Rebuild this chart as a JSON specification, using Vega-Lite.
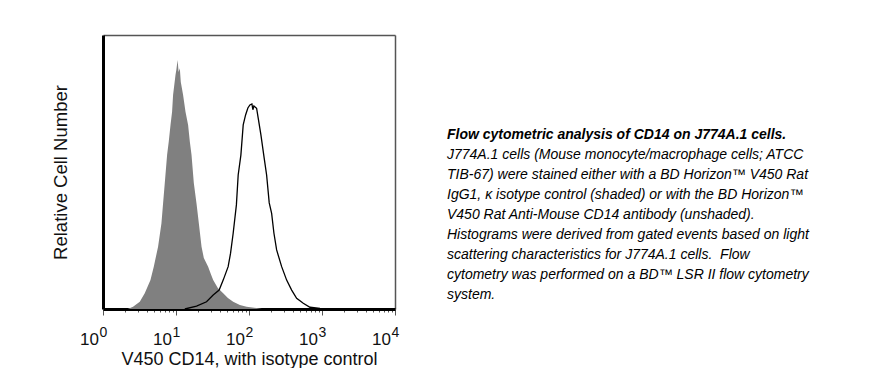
{
  "$schema": "https://vega.github.io/schema/vega-lite/v6.json",
  "background": "white",
  "padding": {"left": 51, "top": 35, "right": 5, "bottom": 0},
  "config": {"view": {"stroke": null}, "font": "Liberation Sans"},
  "datasets": {
    "isotype": [
      {"intensity": 2.18, "count": 0}, {"intensity": 2.58, "count": 0.9}, {"intensity": 3.19, "count": 2.9},
      {"intensity": 3.73, "count": 6.3}, {"intensity": 4.47, "count": 11.6}, {"intensity": 4.96, "count": 17.0},
      {"intensity": 5.68, "count": 25.0}, {"intensity": 6.32, "count": 34.4}, {"intensity": 6.65, "count": 42.4},
      {"intensity": 7.02, "count": 50.6}, {"intensity": 7.55, "count": 61.8}, {"intensity": 7.96, "count": 67.2},
      {"intensity": 8.41, "count": 73.9}, {"intensity": 8.84, "count": 79.2}, {"intensity": 9.12, "count": 85.9},
      {"intensity": 9.84, "count": 93.9}, {"intensity": 10.1, "count": 95.9}, {"intensity": 10.52, "count": 100},
      {"intensity": 10.86, "count": 95.1}, {"intensity": 11.28, "count": 96.7}, {"intensity": 11.63, "count": 91.1},
      {"intensity": 12.51, "count": 85.9}, {"intensity": 13.49, "count": 79.2}, {"intensity": 14.65, "count": 73.9},
      {"intensity": 15.46, "count": 67.2}, {"intensity": 16.32, "count": 61.8}, {"intensity": 17.54, "count": 50.6},
      {"intensity": 19.1, "count": 42.4}, {"intensity": 20.55, "count": 34.4}, {"intensity": 22.38, "count": 25.0},
      {"intensity": 24.05, "count": 20.5}, {"intensity": 27.56, "count": 17.0}, {"intensity": 30.0, "count": 14.1},
      {"intensity": 32.3, "count": 11.6}, {"intensity": 37.4, "count": 8.4}, {"intensity": 44.3, "count": 6.3},
      {"intensity": 51.4, "count": 4.4}, {"intensity": 60.7, "count": 2.9}, {"intensity": 75.0, "count": 1.6},
      {"intensity": 92.7, "count": 0.9}, {"intensity": 127, "count": 0.4}, {"intensity": 150, "count": 0}
    ],
    "cd14": [
      {"intensity": 13.2, "count": 0}, {"intensity": 19.1, "count": 1.2}, {"intensity": 26.2, "count": 2.9},
      {"intensity": 32.3, "count": 5.6}, {"intensity": 39.0, "count": 7.6}, {"intensity": 44.3, "count": 11.6},
      {"intensity": 51.8, "count": 17.0}, {"intensity": 55.9, "count": 22.4}, {"intensity": 60.7, "count": 30.4},
      {"intensity": 67.2, "count": 41.8}, {"intensity": 71.1, "count": 53.8}, {"intensity": 77.4, "count": 61.8},
      {"intensity": 83.3, "count": 73.9}, {"intensity": 89.8, "count": 77.9}, {"intensity": 96.5, "count": 80.7},
      {"intensity": 102.9, "count": 81.9}, {"intensity": 109.6, "count": 82.3}, {"intensity": 113, "count": 80.0},
      {"intensity": 116.7, "count": 81.5}, {"intensity": 127.1, "count": 80.6}, {"intensity": 133.7, "count": 76.6},
      {"intensity": 145.6, "count": 69.9}, {"intensity": 161.6, "count": 60.5}, {"intensity": 174.3, "count": 53.8},
      {"intensity": 189.3, "count": 42.6}, {"intensity": 204.2, "count": 38.4}, {"intensity": 219.6, "count": 30.4},
      {"intensity": 239.1, "count": 23.7}, {"intensity": 280.1, "count": 17.0}, {"intensity": 327.8, "count": 11.6},
      {"intensity": 384, "count": 7.6}, {"intensity": 449.5, "count": 4.3}, {"intensity": 553.9, "count": 2.3},
      {"intensity": 684, "count": 0.7}, {"intensity": 939, "count": 0.2}, {"intensity": 1260, "count": 0}
    ],
    "caption": [
      {"line": 1, "indent": 0, "text": "Flow cytometric analysis of CD14 on J774A.1 cells."},
      {"line": 2, "indent": 0, "text": "J774A.1 cells (Mouse monocyte/macrophage cells; ATCC"},
      {"line": 3, "indent": 0, "text": "TIB-67) were stained either with a BD Horizon™ V450 Rat"},
      {"line": 4, "indent": 0, "text": "IgG1, κ isotype control (shaded) or with the BD Horizon™"},
      {"line": 5, "indent": 0, "text": "V450 Rat Anti-Mouse CD14 antibody (unshaded)."},
      {"line": 6, "indent": 0, "text": "Histograms were derived from gated events based on light"},
      {"line": 7, "indent": 0, "text": "scattering characteristics for J774A.1 cells.\u00a0 Flow"},
      {"line": 8, "indent": 0, "text": "cytometry was performed on a BD™ LSR II flow cytometry"},
      {"line": 9, "indent": 0, "text": "system."}
    ]
  },
  "spacing": 52,
  "bounds": "flush",
  "hconcat": [
    {
      "width": 292,
      "height": 274,
      "resolve": {"scale": {"x": "independent"}, "axis": {"x": "independent"}},
      "layer": [
        {
          "data": {"name": "isotype"},
          "mark": {"type": "area", "color": "#808080", "interpolate": "linear"},
          "encoding": {
            "x": {
              "field": "intensity", "type": "quantitative",
              "scale": {"type": "log", "domain": [1, 10000], "nice": false},
              "axis": {
                "orient": "bottom",
                "title": "V450 CD14, with isotype control",
                "values": [1,2,3,4,5,6,7,8,9,10,20,30,40,50,60,70,80,90,100,200,300,400,500,600,700,800,900,1000,2000,3000,4000,5000,6000,7000,8000,9000,10000],
                "labelExpr": "indexof([1,10,100,1000,10000], datum.value) >= 0 ? '10' : ''",
                "grid": false,
                "domainColor": "black",
                "domainWidth": 3,
                "tickColor": "#555",
                "tickWidth": 1,
                "tickSize": {"condition": {"test": "indexof([1,10,100,1000,10000], datum.value) >= 0", "value": 6}, "value": 3},
                "labelFontSize": 17,
                "labelColor": "#111",
                "labelBaseline": "alphabetic",
                "labelPadding": 29,
                "labelOffset": -14,
                "labelFlush": false,
                "labelOverlap": false,
                "labelBound": false,
                "titleFontSize": 18,
                "titleFontWeight": "normal",
                "titleColor": "#111",
                "titlePadding": 3
              }
            },
            "y": {
              "field": "count", "type": "quantitative",
              "scale": {"domain": [0, 110], "nice": false},
              "axis": {
                "title": "Relative Cell Number",
                "values": [110],
                "labels": false,
                "ticks": false,
                "grid": true,
                "gridColor": "#555",
                "gridWidth": 1.5,
                "domainColor": "black",
                "domainWidth": 3,
                "titleFontSize": 18.5,
                "titleFontWeight": "normal",
                "titleColor": "#111",
                "titlePadding": 33
              }
            }
          }
        },
        {
          "data": {"name": "cd14"},
          "mark": {"type": "line", "color": "black", "strokeWidth": 1.3, "interpolate": "linear"},
          "encoding": {
            "x": {
              "field": "intensity", "type": "quantitative",
              "scale": {"type": "log", "domain": [1, 10000], "nice": false},
              "axis": {
                "orient": "bottom",
                "title": null,
                "values": [1, 10, 100, 1000, 10000],
                "labelExpr": "datum.value == 1 ? '0' : datum.value == 10 ? '1' : datum.value == 100 ? '2' : datum.value == 1000 ? '3' : '4'",
                "domain": false,
                "ticks": false,
                "tickSize": 0,
                "grid": true,
                "gridColor": "#555",
                "gridWidth": 1.5,
                "gridOpacity": {"condition": {"test": "datum.value == 10000", "value": 1}, "value": 0},
                "labelFontSize": 14,
                "labelColor": "#111",
                "labelBaseline": "alphabetic",
                "labelPadding": 27,
                "labelOffset": 0,
                "labelFlush": false,
                "labelOverlap": false,
                "labelBound": false
              }
            },
            "y": {"field": "count", "type": "quantitative"}
          }
        }
      ]
    },
    {
      "width": 380,
      "height": 274,
      "data": {"name": "caption"},
      "encoding": {
        "x": {"field": "indent", "type": "quantitative", "scale": {"domain": [0, 1]}, "axis": null},
        "y": {"field": "line", "type": "quantitative", "scale": {"domain": [-4.215, 9.485], "reverse": true, "nice": false, "zero": false}, "axis": null},
        "text": {"field": "text"}
      },
      "layer": [
        {
          "transform": [{"filter": "datum.line == 1"}],
          "mark": {"type": "text", "align": "left", "baseline": "alphabetic", "fontSize": 14, "fontStyle": "italic", "fontWeight": "bold", "color": "black"}
        },
        {
          "transform": [{"filter": "datum.line > 1"}],
          "mark": {"type": "text", "align": "left", "baseline": "alphabetic", "fontSize": 14, "fontStyle": "italic", "fontWeight": "normal", "color": "black"}
        }
      ]
    }
  ]
}
